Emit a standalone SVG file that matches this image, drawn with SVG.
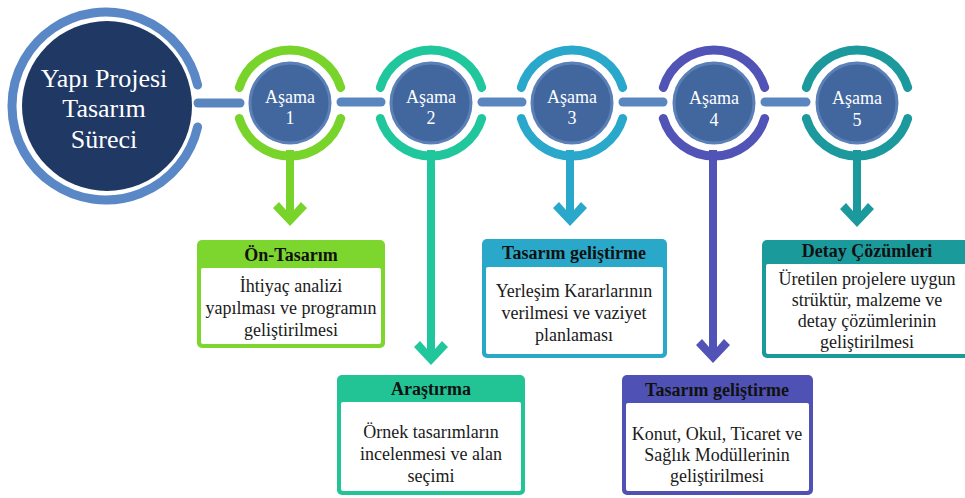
<svg xmlns="http://www.w3.org/2000/svg" width="965" height="498" viewBox="0 0 965 498">
<style>
.ring{fill:none;stroke-width:9;stroke-linecap:round}
.conn{stroke:#5a86c0;stroke-width:9;stroke-linecap:round}
.inner{fill:#42679f;stroke:#5b80b8;stroke-width:3}
text{font-family:'Liberation Serif','DejaVu Serif',serif}
.st{font-size:18px;fill:#fff;text-anchor:middle}
.mt{font-size:26px;fill:#fff;text-anchor:middle}
.hd{font-size:18px;font-weight:bold;fill:#111;text-anchor:middle}
.bd{font-size:18px;fill:#1a1a1a;text-anchor:middle}
</style>
<defs>
<path id="arrowhead" d="M0,0 L-17,-18 L-11,-24 L-4,-16 L4,-16 L11,-24 L17,-18 Z"/>
</defs>
<rect width="965" height="498" fill="#fff"/>

<g id="connectors">
<line class="conn" x1="198" y1="103" x2="240" y2="103"/>
<line class="conn" x1="341" y1="102" x2="381" y2="102"/>
<line class="conn" x1="482" y1="102" x2="522" y2="102"/>
<line class="conn" x1="623" y1="102" x2="663" y2="102"/>
<line class="conn" x1="765" y1="102" x2="806" y2="102"/>
<g fill="#78d42a"><rect x="286" y="150" width="8" height="62"/><use href="#arrowhead" x="290" y="226"/></g>
<g fill="#20c79c"><rect x="427" y="150" width="8" height="201"/><use href="#arrowhead" x="431" y="365"/></g>
<g fill="#29a8cb"><rect x="566" y="150" width="8" height="62"/><use href="#arrowhead" x="570" y="226"/></g>
<g fill="#5153b6"><rect x="709" y="150" width="8" height="199"/><use href="#arrowhead" x="713" y="363"/></g>
<g fill="#1b999d"><rect x="853" y="150" width="8" height="63"/><use href="#arrowhead" x="857" y="227"/></g>
</g>

<g id="main">
<path class="ring" stroke="#5a87c5" d="M197.6,85 A94,94 0 1 0 197.6,127"/>
<circle cx="107" cy="106" r="85" fill="#1f3864"/>
<text class="mt" x="104" y="87" font-family="Liberation Serif, DejaVu Serif, serif">Yapı Projesi</text>
<text class="mt" x="104" y="117" font-family="Liberation Serif, DejaVu Serif, serif">Tasarım</text>
<text class="mt" x="104" y="148" font-family="Liberation Serif, DejaVu Serif, serif">Süreci</text>
</g>

<g id="stage1">
<path class="ring" stroke="#78d42a" d="M239.3,87.5 A53,53 0 0 1 340.7,87.5 M340.7,118.5 A53,53 0 0 1 239.3,118.5"/>
<circle class="inner" cx="290" cy="103" r="40"/>
<text class="st" x="290" y="103">Aşama</text>
<text class="st" x="290" y="124">1</text>
</g>
<g id="stage2">
<path class="ring" stroke="#20c79c" d="M380.3,87.5 A53,53 0 0 1 481.7,87.5 M481.7,118.5 A53,53 0 0 1 380.3,118.5"/>
<circle class="inner" cx="431" cy="103" r="40"/>
<text class="st" x="431" y="103">Aşama</text>
<text class="st" x="431" y="124">2</text>
</g>
<g id="stage3">
<path class="ring" stroke="#29a8cb" d="M521.3,87.5 A53,53 0 0 1 622.7,87.5 M622.7,118.5 A53,53 0 0 1 521.3,118.5"/>
<circle class="inner" cx="572" cy="103" r="40"/>
<text class="st" x="572" y="103">Aşama</text>
<text class="st" x="572" y="124">3</text>
</g>
<g id="stage4">
<path class="ring" stroke="#5153b6" d="M663.3,87.5 A53,53 0 0 1 764.7,87.5 M764.7,118.5 A53,53 0 0 1 663.3,118.5"/>
<circle class="inner" cx="714" cy="103" r="40"/>
<text class="st" x="714" y="104">Aşama</text>
<text class="st" x="714" y="126">4</text>
</g>
<g id="stage5">
<path class="ring" stroke="#1b999d" d="M806.3,87.5 A53,53 0 0 1 907.7,87.5 M907.7,118.5 A53,53 0 0 1 806.3,118.5"/>
<circle class="inner" cx="857" cy="103" r="40"/>
<text class="st" x="857" y="104">Aşama</text>
<text class="st" x="857" y="126">5</text>
</g>

<g id="box1">
<rect x="197" y="240" width="188" height="108" rx="5" fill="#7dd62e"/>
<rect x="201" y="268" width="180" height="76" rx="2" fill="#fff"/>
<text class="hd" x="291" y="261">Ön-Tasarım</text>
<text class="bd" x="291" y="292">İhtiyaç analizi</text>
<text class="bd" x="291" y="314">yapılması ve programın</text>
<text class="bd" x="291" y="336">geliştirilmesi</text>
</g>
<g id="box2">
<rect x="337" y="375" width="188" height="120" rx="5" fill="#22c496"/>
<rect x="341" y="402" width="180" height="89" rx="2" fill="#fff"/>
<text class="hd" x="431" y="395">Araştırma</text>
<text class="bd" x="431" y="438">Örnek tasarımların</text>
<text class="bd" x="431" y="460">incelenmesi ve alan</text>
<text class="bd" x="431" y="482">seçimi</text>
</g>
<g id="box3">
<rect x="482" y="239" width="185" height="119" rx="5" fill="#2aa8ca"/>
<rect x="486" y="267" width="177" height="87" rx="2" fill="#fff"/>
<text class="hd" x="574" y="259">Tasarım geliştirme</text>
<text class="bd" x="574" y="297">Yerleşim Kararlarının</text>
<text class="bd" x="574" y="319">verilmesi ve vaziyet</text>
<text class="bd" x="574" y="341">planlaması</text>
</g>
<g id="box4">
<rect x="622" y="375" width="191" height="120" rx="5" fill="#4f52b4"/>
<rect x="626" y="403" width="183" height="88" rx="2" fill="#fff"/>
<text class="hd" x="717" y="396">Tasarım geliştirme</text>
<text class="bd" x="717" y="440">Konut, Okul, Ticaret ve</text>
<text class="bd" x="717" y="461">Sağlık Modüllerinin</text>
<text class="bd" x="717" y="482">geliştirilmesi</text>
</g>
<g id="box5">
<rect x="762" y="240" width="210" height="118" rx="5" fill="#1b9a9c"/>
<rect x="766" y="264" width="202" height="90" rx="2" fill="#fff"/>
<text class="hd" x="867" y="257">Detay Çözümleri</text>
<text class="bd" x="867" y="285">Üretilen projelere uygun</text>
<text class="bd" x="867" y="306">strüktür, malzeme ve</text>
<text class="bd" x="867" y="327">detay çözümlerinin</text>
<text class="bd" x="867" y="348">geliştirilmesi</text>
</g>
</svg>
